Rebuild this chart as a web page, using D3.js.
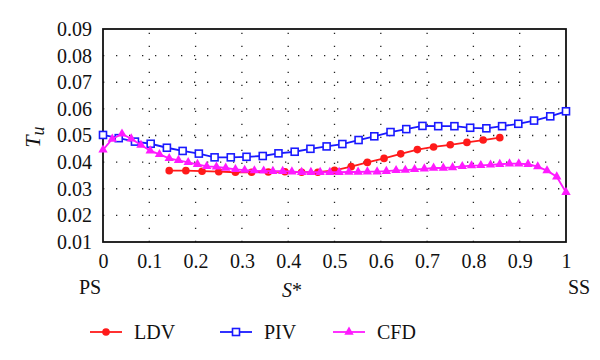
<!DOCTYPE html>
<html><head><meta charset="utf-8">
<script src="https://cdn.jsdelivr.net/npm/d3@7"></script>
<style>body{margin:0;background:#fff}svg{display:block}
svg text{font-family:"Liberation Serif","Times New Roman","DejaVu Serif",serif !important;}</style>
</head><body><svg id="c" width="600" height="360"></svg>
<script>
const xTicks = [0,0.1,0.2,0.3,0.4,0.5,0.6,0.7,0.8,0.9,1];
const xTickLabels = ["0","0.1","0.2","0.3","0.4","0.5","0.6","0.7","0.8","0.9","1"];
const yTicks = [0.01,0.02,0.03,0.04,0.05,0.06,0.07,0.08,0.09];
const yTickLabels = ["0.01","0.02","0.03","0.04","0.05","0.06","0.07","0.08","0.09"];
const seriesNames = ["LDV","PIV","CFD"];

const ldvS = [0.143,0.179,0.214,0.25,0.286,0.321,0.357,0.393,0.429,0.464,0.5,0.536,0.571,0.607,0.643,0.679,0.714,0.75,0.786,0.821,0.857];
const ldvT = [0.0368,0.0368,0.0366,0.0364,0.0362,0.0362,0.0363,0.0364,0.0362,0.0362,0.0369,0.0383,0.0399,0.0414,0.0431,0.0447,0.0457,0.0465,0.0474,0.0483,0.0492];

const pivS = [0,0.034,0.069,0.103,0.138,0.172,0.207,0.241,0.276,0.310,0.345,0.379,0.414,0.448,0.483,0.517,0.552,0.586,0.621,0.655,0.690,0.724,0.759,0.793,0.828,0.862,0.897,0.931,0.966,1];
const pivT = [0.0502,0.0490,0.0477,0.0469,0.0454,0.0442,0.0432,0.0418,0.0418,0.0420,0.0423,0.0433,0.0439,0.0450,0.0459,0.0468,0.0483,0.0497,0.0513,0.0524,0.0536,0.0535,0.0535,0.0529,0.0527,0.0535,0.0544,0.0556,0.0572,0.0591];

const cfdS = [0,0.020,0.041,0.061,0.082,0.102,0.122,0.143,0.163,0.184,0.204,0.224,0.245,0.265,0.286,0.306,0.327,0.347,0.367,0.388,0.408,0.429,0.449,0.469,0.490,0.510,0.531,0.551,0.571,0.592,0.612,0.633,0.653,0.673,0.694,0.714,0.735,0.755,0.776,0.796,0.816,0.837,0.857,0.878,0.898,0.918,0.939,0.959,0.980,1];
const cfdT = [0.0446,0.0487,0.0506,0.0488,0.0464,0.0443,0.0429,0.0414,0.0407,0.0399,0.0392,0.0384,0.0382,0.0378,0.0373,0.0370,0.0368,0.0367,0.0366,0.0366,0.0364,0.0362,0.0362,0.0362,0.0362,0.0362,0.0363,0.0363,0.0364,0.0364,0.0366,0.0369,0.0370,0.0373,0.0375,0.0378,0.0378,0.0380,0.0384,0.0387,0.0388,0.0390,0.0392,0.0394,0.0394,0.0392,0.0383,0.0368,0.0345,0.0287];

const svg = d3.select("#c");
const L = 103, R = 566, T = 29, B = 242;
const x = d3.scaleLinear().domain([0,1]).range([L,R]);
const y = d3.scaleLinear().domain([0.01,0.09]).range([B,T]);
const FS = 20;

// grid
const g = svg.append("g");
g.selectAll(".vg").data(xTicks.slice(1,-1)).join("line")
  .attr("x1",d=>x(d)).attr("x2",d=>x(d)).attr("y1",B).attr("y2",T-2)
  .attr("stroke","#222").attr("stroke-width",1.3).attr("stroke-dasharray","1.3,11.7");
g.selectAll(".hg").data(yTicks.slice(1,-1)).join("line")
  .attr("y1",d=>y(d)).attr("y2",d=>y(d)).attr("x1",L).attr("x2",R)
  .attr("stroke","#222").attr("stroke-width",1.3).attr("stroke-dasharray","1.3,11.7");

// frame
svg.append("rect").attr("x",L).attr("y",T).attr("width",R-L).attr("height",B-T)
  .attr("fill","none").attr("stroke","#111").attr("stroke-width",1.8);

// axes
const xAxis = d3.axisBottom(x).tickValues(xTicks).tickSize(0).tickPadding(12)
  .tickFormat((d,i)=>xTickLabels[i]);
const ax = svg.append("g").attr("transform",`translate(0,${B})`).call(xAxis);
ax.select(".domain").remove();
ax.selectAll("text").attr("font-size",FS).attr("fill","#111");
const yAxis = d3.axisLeft(y).tickValues(yTicks).tickSize(0).tickPadding(11)
  .tickFormat((d,i)=>yTickLabels[i]);
const ay = svg.append("g").attr("transform",`translate(${L},0)`).call(yAxis);
ay.select(".domain").remove();
ay.selectAll("text").attr("font-size",FS).attr("fill","#111");

// labels
svg.append("text").attr("x",90).attr("y",294).attr("text-anchor","middle")
  .attr("font-size",FS).attr("fill","#111").text("PS");
svg.append("text").attr("x",579).attr("y",294).attr("text-anchor","middle")
  .attr("font-size",FS).attr("fill","#111").text("SS");
const sl = svg.append("text").attr("x",292).attr("y",297).attr("text-anchor","middle")
  .attr("font-size",FS).attr("fill","#111");
sl.append("tspan").attr("font-style","italic").text("S");
sl.append("tspan").text("*");
const tl = svg.append("text").attr("transform","translate(40,137) rotate(-90)").attr("text-anchor","middle")
  .attr("font-size",22).attr("font-style","italic").attr("fill","#111");
tl.append("tspan").text("T");
tl.append("tspan").attr("dy",4).attr("font-size",18).text("u");

// series
const cfg = [
  {name:"LDV", s:ldvS, t:ldvT, color:"#ff1a1a", sym:"circle"},
  {name:"PIV", s:pivS, t:pivT, color:"#1a1aff", sym:"square"},
  {name:"CFD", s:cfdS, t:cfdT, color:"#ff1aff", sym:"triangle"}
];
function marker(sel, sym, color){
  if(sym==="circle") sel.append("circle").attr("r",3.8).attr("fill",color);
  else if(sym==="square") sel.append("rect").attr("x",-3.5).attr("y",-3.5).attr("width",7).attr("height",7)
      .attr("fill","#fff").attr("stroke",color).attr("stroke-width",1.6);
  else sel.append("path").attr("d",d3.symbol(d3.symbolTriangle,38)()).attr("fill",color);
}
const line = d3.line().x(d=>x(d[0])).y(d=>y(d[1]));
cfg.forEach(c=>{
  const pts = c.s.map((s,i)=>[s,c.t[i]]);
  svg.append("path").attr("d",line(pts)).attr("fill","none").attr("stroke",c.color).attr("stroke-width",1.8);
  svg.append("g").selectAll("g").data(pts).join("g")
    .attr("transform",d=>`translate(${x(d[0])},${y(d[1])})`)
    .each(function(){ marker(d3.select(this), c.sym, c.color); });
});

// legend
const lx = [90,220,333];
cfg.forEach((c,i)=>{
  const lg = svg.append("g").attr("transform",`translate(${lx[i]},332)`);
  lg.append("line").attr("x1",0).attr("x2",32).attr("stroke",c.color).attr("stroke-width",1.8);
  const m = lg.append("g").attr("transform","translate(16,0)");
  marker(m, c.sym, c.color);
  lg.append("text").attr("x",44).attr("y",7).attr("font-size",FS)
    .attr("fill","#111").text(c.name);
});
</script></body></html>
